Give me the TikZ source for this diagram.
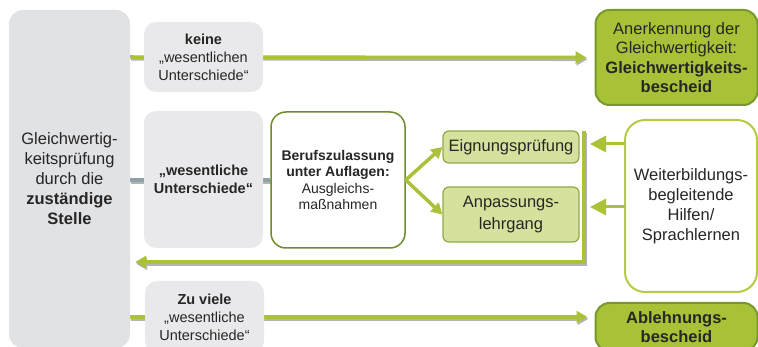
\documentclass[tikz,border=0pt]{standalone}
\usepackage{fontspec}
\setmainfont{Liberation Sans}
\usetikzlibrary{arrows.meta}
\definecolor{lgray}{HTML}{E1E2E4}
\definecolor{bgray}{HTML}{E9E9EB}
\definecolor{gline}{HTML}{A9C23A}
\definecolor{gfill}{HTML}{A8C238}
\definecolor{gdark}{HTML}{7A972B}
\definecolor{lgfill}{HTML}{D5E19C}
\definecolor{lgborder}{HTML}{8FAA45}
\definecolor{bline}{HTML}{8FA3A6}
\definecolor{txt}{HTML}{262626}
\definecolor{shad}{HTML}{B4B4B4}
\definecolor{bdark}{HTML}{6F8C2A}
\definecolor{wborder}{HTML}{B3CB45}
\pgfdeclarelayer{background}
\pgfsetlayers{background,main}
\begin{document}
\begin{tikzpicture}[x=1pt,y=-1pt,
  box/.style={rectangle, align=center, inner sep=0pt, text=txt},
  smalltxt/.style={font=\fontsize{14.5}{18}\selectfont},
  bigtxt/.style={font=\fontsize{16.5}{20}\selectfont},
  graybox/.style={box, smalltxt, fill=bgray, rounded corners=12pt, minimum width=119pt},
  greenbox/.style={box, bigtxt, fill=gfill, draw=gdark, line width=2pt, rounded corners=14pt, minimum width=162pt},
  lightbox/.style={box, bigtxt, fill=lgfill, draw=lgborder, line width=1.2pt, rounded corners=6pt, minimum width=136pt},
  shadowline/.style={draw=shad, line width=3.5pt, transform canvas={shift={(1,1.8)}}},
  greenline/.style={draw=gline, line width=3.5pt},
  grayline/.style={draw=bline, line width=4pt},
  smalltip/.style={-{Triangle[length=11pt,width=12pt]}},
  bigtip/.style={-{Triangle[length=16pt,width=16pt]}},
]
\useasboundingbox (0,0) rectangle (758,347);

% nodes
\node[box, fill=lgray, rounded corners=14pt, minimum width=121pt, minimum height=338pt,
      bigtxt] (left) at (69.5,179)
  {Gleichwertig-\\keitsprüfung\\durch die\\\textbf{zuständige}\\\textbf{Stelle}};
\node[graybox, minimum height=70pt] (keine) at (203.5,57)
  {\textbf{keine}\\„wesentlichen\\Unterschiede“};
\node[graybox, minimum height=137pt] (wes) at (203.5,179.5)
  {\textbf{„wesentliche}\\\textbf{Unterschiede“}};
\node[graybox, minimum height=72pt] (zuviele) at (204.5,317)
  {\textbf{Zu viele}\\„wesentliche\\Unterschiede“};
\node[box, fill=white, draw=bdark, line width=1.5pt, rounded corners=15pt,
      minimum width=134pt, minimum height=136pt, font=\fontsize{14}{16.3}\selectfont] (berufs) at (338,180)
  {\textbf{Berufszulassung}\\\textbf{unter Auflagen:}\\Ausgleichs-\\maßnahmen};
\node[lightbox, minimum height=32pt] (eign) at (511,147) {Eignungsprüfung};
\node[lightbox, minimum height=55pt, font=\fontsize{16.5}{22}\selectfont] (anp) at (511,214.5) {Anpassungs-\\lehrgang};
\node[greenbox, minimum height=95pt, font=\fontsize{16.5}{19.5}\selectfont] (aner) at (676.5,57.5)
  {Anerkennung der\\Gleichwertigkeit:\\\textbf{Gleichwertigkeits-}\\\textbf{bescheid}};
\node[greenbox, minimum height=48pt, font=\fontsize{16.5}{19}\selectfont] (abl) at (676.5,327)
  {\textbf{Ablehnungs-}\\\textbf{bescheid}};
\node[box, bigtxt, fill=white, draw=wborder, line width=2pt, rounded corners=20pt,
      minimum width=132pt, minimum height=172pt] (weiter) at (691,206)
  {Weiterbildungs-\\begleitende\\Hilfen/\\Sprachlernen};

\coordinate (vtop) at (584,131);
\coordinate (vbot) at (584,262);
\coordinate (w1) at (625,144);
\coordinate (w2) at (625,207);

\begin{pgfonlayer}{background}
  % top connector
  \draw[shadowline, smalltip, shorten >=8pt] (left.east |- keine.center) -- (aner.west);
  \draw[greenline, smalltip, shorten >=8pt] (left.east |- keine.center) -- (aner.west);
  % middle gray connector
  \draw[shadowline, draw=shad] (left.east |- berufs.center) -- (berufs.west);
  \draw[grayline] (left.east |- berufs.center) -- (berufs.west);
  % bottom connector
  \draw[shadowline, smalltip, shorten >=7pt] (left.east |- zuviele.center) -- (abl.west |- zuviele.center);
  \draw[greenline, smalltip, shorten >=7pt] (left.east |- zuviele.center) -- (abl.west |- zuviele.center);
\end{pgfonlayer}

% branch arrows
\draw[greenline, smalltip] (berufs.east) -- (eign.west);
\draw[greenline, smalltip] (berufs.east) -- (anp.west);

% feedback loop
\draw[shadowline, smalltip, shorten >=5pt] (vtop) -- (vbot) -- (left.east |- vbot);
\draw[greenline, smalltip, shorten >=5pt] (vtop) -- (vbot) -- (left.east |- vbot);

% support arrows
\draw[greenline, line width=3pt, bigtip, shorten >=6pt] (w1) -- (vtop |- w1);
\draw[greenline, line width=3pt, bigtip, shorten >=6pt] (w2) -- (vtop |- w2);
\end{tikzpicture}
\end{document}
